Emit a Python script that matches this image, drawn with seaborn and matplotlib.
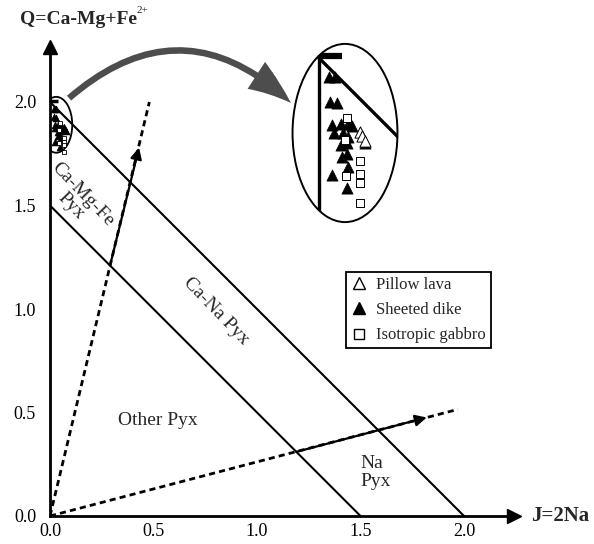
import matplotlib
matplotlib.use("Agg")
import matplotlib.pyplot as plt
import seaborn as sns
from matplotlib.patches import Ellipse, FancyArrowPatch
from matplotlib.lines import Line2D

# ---------------- data ----------------
pillow_J = [0.068, 0.072, 0.076]
pillow_Q = [1.877, 1.870, 1.862]

dike_J = [0.017, 0.027, 0.018, 0.030, 0.022, 0.037, 0.048, 0.055, 0.025, 0.040,
          0.048, 0.037, 0.047, 0.038, 0.047, 0.048, 0.022, 0.047, 0.077]
dike_Q = [1.968, 1.968, 1.927, 1.925, 1.888, 1.890, 1.890, 1.887, 1.875, 1.875,
          1.868, 1.855, 1.858, 1.835, 1.840, 1.818, 1.805, 1.783, 1.858]

gabbro_J = [0.047, 0.043, 0.068, 0.045, 0.068, 0.068, 0.068]
gabbro_Q = [1.900, 1.863, 1.828, 1.803, 1.807, 1.792, 1.758]

top_bar_J = [0.0, 0.038]
top_bar_Q = [2.003, 2.003]

tick_values = [0.0, 0.5, 1.0, 1.5, 2.0]
tick_labels = ["0.0", "0.5", "1.0", "1.5", "2.0"]

boundary_sums = [1.5, 2.0]                    # lines Q + J = const
vector_ends = [(0.48, 2.00), (1.97, 0.515)]   # dashed vectors from origin
arrow_starts = [(0.29, 1.21), (1.19, 0.31)]
arrow_ends = [(0.43, 1.78), (1.82, 0.476)]

legend_labels = ["Pillow lava", "Sheeted dike", "Isotropic gabbro"]

# ---------------- style ----------------
sns.set_style("white")
plt.rcParams['font.family'] = ['Liberation Serif', 'DejaVu Serif']

W, H = 594, 544
X0, Y0, S = 50, 516, 207          # origin pixel and pixels per unit
XMAX, YMAX = 2.24, 2.265
fig = plt.figure(figsize=(W / 100, H / 100), dpi=100)
ax = fig.add_axes([X0 / W, (H - Y0) / H, XMAX * S / W, YMAX * S / H])
ax.set_xlim(0, XMAX)
ax.set_ylim(0, YMAX)
for s in ["top", "right"]:
    ax.spines[s].set_visible(False)
for s in ["left", "bottom"]:
    ax.spines[s].set_linewidth(2.0)
    ax.spines[s].set_color("black")
ax.set_xticks(tick_values)
ax.set_xticklabels(tick_labels)
ax.set_yticks(tick_values)
ax.set_yticklabels(tick_labels)
ax.tick_params(axis="both", direction="in", length=6, width=1.5, labelsize=13, colors="black")
ax.tick_params(axis="x", pad=5)
ax.tick_params(axis="y", pad=10)

# axis arrow heads
ax.plot([XMAX], [0], marker=">", color="black", ms=10, clip_on=False, zorder=5)
ax.plot([0], [YMAX], marker="^", color="black", ms=10, clip_on=False, zorder=5)

# boundary lines
for c in boundary_sums:
    ax.plot([0, c], [c, 0], color="black", lw=1.5)

# dashed vectors and solid arrows
for (ej, eq) in vector_ends:
    ax.plot([0, ej], [0, eq], color="black", lw=2.0, ls=(0, (2.2, 1.5)))
for (sj, sq), (ej, eq) in zip(arrow_starts, arrow_ends):
    ax.annotate("", xy=(ej, eq), xytext=(sj, sq),
                arrowprops=dict(arrowstyle="-|>", lw=1.6, color="black",
                                mutation_scale=17, shrinkA=0, shrinkB=0))

# main data cluster
sns.scatterplot(x=dike_J, y=dike_Q, ax=ax, marker="^", color="black", s=24,
                edgecolor="black", linewidth=0.5, legend=False, zorder=4)
sns.scatterplot(x=pillow_J, y=pillow_Q, ax=ax, marker="^", color="black", s=20,
                edgecolor="black", linewidth=0.5, legend=False, zorder=4)
sns.scatterplot(x=gabbro_J, y=gabbro_Q, ax=ax, marker="s", color="white", s=12,
                edgecolor="black", linewidth=0.6, legend=False, zorder=4)
ax.plot(top_bar_J, top_bar_Q, color="black", lw=2.5, solid_capstyle="butt")

ax.add_patch(Ellipse((0.03, 1.89), 0.155, 0.27, fill=False, lw=1.3, color="black"))

# region labels
ax.text(0.13, 1.525, "Ca-Mg-Fe\nPyx", rotation=-46, ha="center", va="center",
        fontsize=14, linespacing=1.0, rotation_mode="anchor", multialignment="center")
ax.text(0.80, 0.99, "Ca-Na Pyx", rotation=-46, ha="center", va="center",
        fontsize=14, rotation_mode="anchor")
ax.text(0.52, 0.46, "Other Pyx", ha="center", va="center", fontsize=14)
ax.text(1.50, 0.21, "Na\nPyx", ha="left", va="center", fontsize=14, linespacing=1.05)

# axis titles
ax.text(2.325, 0, "J=2Na", ha="left", va="center", fontsize=15, fontweight="bold",
        clip_on=False)
qt = fig.text(20 / W, 1 - 19 / H, "Q=Ca-Mg+Fe", ha="left", va="center",
              fontsize=14, fontweight="bold")
fig.canvas.draw()
ax.annotate("2+", xy=(1.0, 0.72), xycoords=qt, ha="left", va="bottom", fontsize=8,
            annotation_clip=False)

# curved grey arrow
arr = FancyArrowPatch(posA=(0.082, 2.01), posB=(1.174, 1.986),
                      connectionstyle="arc3,rad=-0.46",
                      arrowstyle="simple,head_length=2.9,head_width=2.1,tail_width=0.42",
                      mutation_scale=11, color="#4d4d4d", lw=0, clip_on=False, zorder=6)
ax.add_patch(arr)

# legend
handles = [
    Line2D([], [], marker="^", ls="none", markerfacecolor="white", markeredgecolor="black", ms=8, mew=1.0),
    Line2D([], [], marker="^", ls="none", markerfacecolor="black", markeredgecolor="black", ms=8),
    Line2D([], [], marker="s", ls="none", markerfacecolor="white", markeredgecolor="black", ms=7, mew=1.0),
]
leg = ax.legend(handles, legend_labels, loc="upper left",
                bbox_to_anchor=(346 / W, 1 - 272 / H), bbox_transform=fig.transFigure,
                fontsize=12, frameon=True, fancybox=False, framealpha=1,
                edgecolor="black", borderpad=0.3, labelspacing=0.55,
                handlelength=0.9, handletextpad=0.6, borderaxespad=0)
leg.get_frame().set_linewidth(1.3)

# inset magnified view
ax_in = fig.add_axes([292 / W, 1 - 223 / H, 106 / W, 180 / H])
ax_in.set_xlim(-0.045, 0.1317)
ax_in.set_ylim(1.725, 2.025)
ax_in.axis("off")
ell = Ellipse((0.5, 0.5), 0.99, 0.99, transform=ax_in.transAxes, fill=False,
              lw=1.4, color="black", clip_on=False)
ax_in.add_patch(ell)
l1, = ax_in.plot([0, 0], [1.6, 2.2], color="black", lw=2.4)
l2, = ax_in.plot([-0.2, 0.4], [2.2, 1.6], color="black", lw=2.4)
l3, = ax_in.plot(top_bar_J, top_bar_Q, color="black", lw=4.5, solid_capstyle="butt")
for l in (l1, l2, l3):
    l.set_clip_path(ell)
sns.scatterplot(x=dike_J, y=dike_Q, ax=ax_in, marker="^", color="black", s=65,
                edgecolor="black", linewidth=0.5, legend=False, zorder=4)
sns.scatterplot(x=pillow_J, y=pillow_Q, ax=ax_in, marker="^", color="white", s=65,
                edgecolor="black", linewidth=0.7, legend=False, zorder=4)
sns.scatterplot(x=gabbro_J, y=gabbro_Q, ax=ax_in, marker="s", color="white", s=40,
                edgecolor="black", linewidth=0.7, legend=False, zorder=4)

fig.savefig("out.png", dpi=100)
